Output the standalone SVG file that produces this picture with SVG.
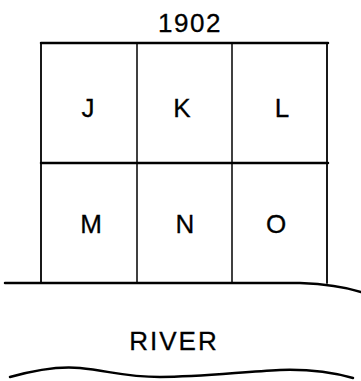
<svg xmlns="http://www.w3.org/2000/svg" width="361" height="381" viewBox="0 0 361 381">
<style>
.ln{stroke:#000;fill:none;stroke-linecap:round}
.t{font-family:"Liberation Sans",Arial,sans-serif;font-size:26px;fill:#000;text-anchor:middle;stroke:#000;stroke-width:0.3}
</style>
<rect width="361" height="381" fill="#fff"/>
<g id="connectors">
<line class="ln" x1="41" y1="43" x2="328" y2="43" stroke-width="2.5"/>
<line class="ln" x1="41" y1="163" x2="328" y2="163" stroke-width="2.5"/>
<line class="ln" x1="41" y1="43" x2="41" y2="283" stroke-width="1.8"/>
<line class="ln" x1="137" y1="43" x2="137" y2="283" stroke-width="1.5"/>
<line class="ln" x1="232" y1="43" x2="232" y2="283" stroke-width="1.5"/>
<line class="ln" x1="327" y1="43" x2="327" y2="283" stroke-width="1.8"/>
<path class="ln" d="M5 283 L300 283 C325 284 345 287 361 292" stroke-width="2.5"/>
<path class="ln" d="M10 377 C35 370 60 366 80 368 C110 371 125 377 160 377 C200 377 240 372 280 370 C310 369 335 373 353 378" stroke-width="2.5"/>
</g>
<g id="title"><text class="t" x="190" y="32" letter-spacing="1.5">1902</text></g>
<g id="J"><text class="t" x="88" y="117">J</text></g>
<g id="K"><text class="t" x="182" y="117">K</text></g>
<g id="L"><text class="t" x="282" y="117">L</text></g>
<g id="M"><text class="t" x="91" y="233">M</text></g>
<g id="N"><text class="t" x="185" y="233">N</text></g>
<g id="O"><text class="t" x="276" y="233">O</text></g>
<g id="river"><text class="t" x="174" y="350" letter-spacing="2">RIVER</text></g>
</svg>
